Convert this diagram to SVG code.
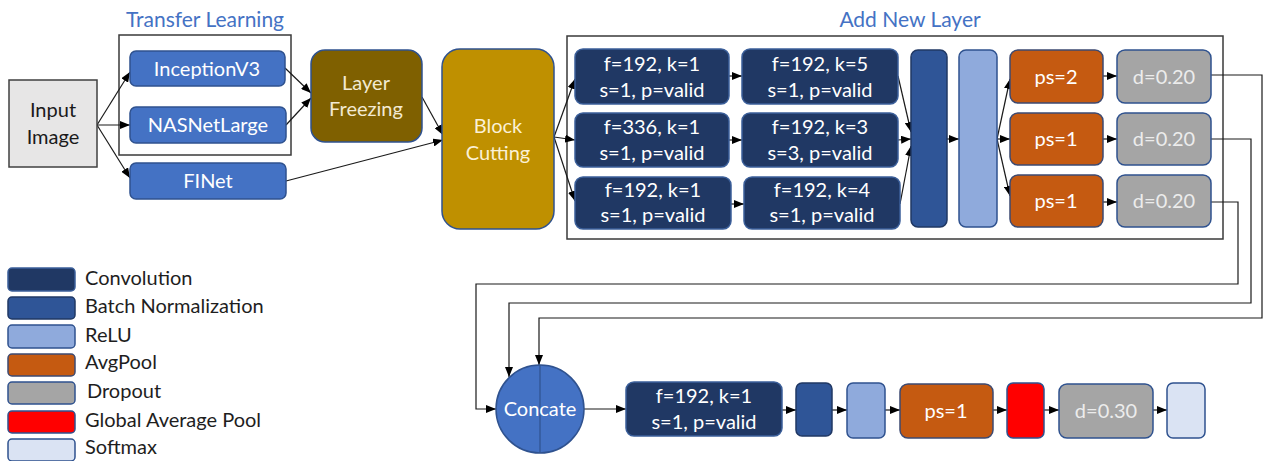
<svg xmlns="http://www.w3.org/2000/svg" width="1263" height="461" viewBox="0 0 1263 461">
<defs>
<style>
text{font-family:Lato,"Liberation Sans",sans-serif;font-size:20px;text-anchor:middle}
.w{fill:#ffffff}
.dg{fill:#ececec}
.lg{fill:#1e1e1e;text-anchor:start}
.tt{fill:#4472C4;font-size:21px}
.frame{fill:none;stroke:#3a3a3a;stroke-width:1.5}
.blue{fill:#4472C4;stroke:#2F528F;stroke-width:1.5}
.conv{fill:#203864;stroke:#3b5f9a;stroke-width:1.5}
.bn{fill:#2F5597;stroke:#203864;stroke-width:1.5}
.relu{fill:#8FAADC;stroke:#2F528F;stroke-width:1.5}
.pool{fill:#C55A11;stroke:#3d4a72;stroke-width:1.5}
.drop{fill:#A5A5A5;stroke:#2F528F;stroke-width:1.5}
.gap{fill:#FF0000;stroke:#2F528F;stroke-width:1.5}
.soft{fill:#DAE3F3;stroke:#2F528F;stroke-width:1.5}
.c{fill:none;stroke:#1a1a1a;stroke-width:1.2}
</style>
<marker id="ah" viewBox="0 0 10 8" refX="10" refY="4" markerWidth="10" markerHeight="8" markerUnits="userSpaceOnUse" orient="auto">
<path d="M0,0 L10,4 L0,8 z" fill="#000"/>
</marker>
</defs>
<rect width="1263" height="461" fill="#ffffff"/>

<text class="tt" x="205" y="27">Transfer Learning</text>
<text class="tt" x="910" y="27">Add New Layer</text>
<rect class="frame" x="119" y="35" width="172" height="120"/>
<rect class="frame" x="567" y="36" width="656" height="203"/>

<g id="connectors">
<path class="c" marker-end="url(#ah)" d="M97,125 L130,72"/>
<path class="c" marker-end="url(#ah)" d="M97,125 L130,125"/>
<path class="c" marker-end="url(#ah)" d="M97,125 L130,178"/>
<path class="c" marker-end="url(#ah)" d="M285,68 L311,93"/>
<path class="c" marker-end="url(#ah)" d="M286,125 L311,98"/>
<path class="c" marker-end="url(#ah)" d="M422,97 L443,135"/>
<path class="c" marker-end="url(#ah)" d="M286,181 L443,140"/>
<path class="c" marker-end="url(#ah)" d="M554,137 L575,79"/>
<path class="c" marker-end="url(#ah)" d="M554,137 L575,140"/>
<path class="c" marker-end="url(#ah)" d="M554,137 L575,201"/>
<path class="c" marker-end="url(#ah)" d="M729,76 L742,76"/>
<path class="c" marker-end="url(#ah)" d="M729,140 L742,140"/>
<path class="c" marker-end="url(#ah)" d="M731,204 L744,204"/>
<path class="c" marker-end="url(#ah)" d="M898,76 L911,132"/>
<path class="c" marker-end="url(#ah)" d="M898,140 L911,139"/>
<path class="c" marker-end="url(#ah)" d="M900,204 L911,146"/>
<path class="c" marker-end="url(#ah)" d="M947,139 L959,139"/>
<path class="c" marker-end="url(#ah)" d="M997,139 L1010,79"/>
<path class="c" marker-end="url(#ah)" d="M997,139 L1010,139"/>
<path class="c" marker-end="url(#ah)" d="M997,139 L1010,196"/>
<path class="c" marker-end="url(#ah)" d="M1103,76 L1117,76"/>
<path class="c" marker-end="url(#ah)" d="M1103,139 L1117,139"/>
<path class="c" marker-end="url(#ah)" d="M1103,202 L1117,202"/>
<path class="c" marker-end="url(#ah)" d="M1211,75 H1262 V318 H539 V365"/>
<path class="c" marker-end="url(#ah)" d="M1211,139 H1251 V303 H509 V377"/>
<path class="c" marker-end="url(#ah)" d="M1211,202 H1238 V284 H476 V409 H496"/>
<path class="c" marker-end="url(#ah)" d="M584,409 L626,409"/>
<path class="c" marker-end="url(#ah)" d="M782,410 L796,410"/>
<path class="c" marker-end="url(#ah)" d="M832,410 L847,410"/>
<path class="c" marker-end="url(#ah)" d="M885,410 L900,410"/>
<path class="c" marker-end="url(#ah)" d="M993,410 L1007,410"/>
<path class="c" marker-end="url(#ah)" d="M1044,410 L1059,410"/>
<path class="c" marker-end="url(#ah)" d="M1153,410 L1167,410"/>
</g>

<g id="input-image">
<rect x="9" y="80" width="88" height="87" fill="#E7E6E6" stroke="#404040" stroke-width="1.5"/>
<text x="53" y="117" fill="#1a1a1a">Input</text>
<text x="53" y="144" fill="#1a1a1a">Image</text>
</g>
<g id="inceptionv3"><rect class="blue" x="130" y="51" width="155" height="35" rx="6"/><text class="w" x="207" y="76">InceptionV3</text></g>
<g id="nasnetlarge"><rect class="blue" x="130" y="107" width="156" height="36" rx="6"/><text class="w" x="208" y="132">NASNetLarge</text></g>
<g id="finet"><rect class="blue" x="130" y="163" width="156" height="36" rx="6"/><text class="w" x="208" y="188">FINet</text></g>
<g id="layer-freezing"><rect x="311" y="50" width="111" height="92" rx="14" fill="#7F6000" stroke="#2F528F" stroke-width="1.5"/><text x="366" y="90" fill="#f3ead2">Layer</text><text x="366" y="116" fill="#f3ead2">Freezing</text></g>
<g id="block-cutting"><rect x="442" y="49" width="112" height="180" rx="18" fill="#BF9000" stroke="#2F528F" stroke-width="1.5"/><text x="498" y="133" fill="#fbf1d6">Block</text><text x="498" y="160" fill="#fbf1d6">Cutting</text></g>

<g id="conv-1a"><rect class="conv" x="575" y="49" width="154" height="55" rx="8"/><text class="w" x="652" y="71">f=192, k=1</text><text class="w" x="652" y="97">s=1, p=valid</text></g>
<g id="conv-1b"><rect class="conv" x="742" y="49" width="156" height="55" rx="8"/><text class="w" x="820" y="71">f=192, k=5</text><text class="w" x="820" y="97">s=1, p=valid</text></g>
<g id="conv-2a"><rect class="conv" x="575" y="113" width="154" height="54" rx="8"/><text class="w" x="652" y="134">f=336, k=1</text><text class="w" x="652" y="160">s=1, p=valid</text></g>
<g id="conv-2b"><rect class="conv" x="742" y="113" width="156" height="54" rx="8"/><text class="w" x="820" y="134">f=192, k=3</text><text class="w" x="820" y="160">s=3, p=valid</text></g>
<g id="conv-3a"><rect class="conv" x="575" y="177" width="156" height="52" rx="8"/><text class="w" x="653" y="197">f=192, k=1</text><text class="w" x="653" y="222">s=1, p=valid</text></g>
<g id="conv-3b"><rect class="conv" x="744" y="177" width="156" height="52" rx="8"/><text class="w" x="822" y="197">f=192, k=4</text><text class="w" x="822" y="222">s=1, p=valid</text></g>

<g id="bn-1"><rect class="bn" x="911" y="50" width="36" height="177" rx="7"/></g>
<g id="relu-1"><rect class="relu" x="959" y="50" width="38" height="177" rx="7"/></g>

<g id="pool-1"><rect class="pool" x="1010" y="50" width="93" height="53" rx="8"/><text class="w" x="1056" y="84">ps=2</text></g>
<g id="pool-2"><rect class="pool" x="1010" y="113" width="93" height="52" rx="8"/><text class="w" x="1056" y="146">ps=1</text></g>
<g id="pool-3"><rect class="pool" x="1010" y="175" width="93" height="52" rx="8"/><text class="w" x="1056" y="208">ps=1</text></g>
<g id="drop-1"><rect class="drop" x="1117" y="50" width="94" height="53" rx="8"/><text class="dg" x="1164" y="84">d=0.20</text></g>
<g id="drop-2"><rect class="drop" x="1117" y="113" width="94" height="52" rx="8"/><text class="dg" x="1164" y="146">d=0.20</text></g>
<g id="drop-3"><rect class="drop" x="1117" y="175" width="94" height="52" rx="8"/><text class="dg" x="1164" y="208">d=0.20</text></g>

<g id="concate"><circle cx="540" cy="409" r="44" fill="#4472C4" stroke="#2F528F" stroke-width="1.5"/><line x1="540" y1="365" x2="540" y2="453" stroke="#2F528F" stroke-width="1.2"/><text class="w" x="540" y="416">Concate</text></g>
<g id="conv-final"><rect class="conv" x="626" y="382" width="156" height="54" rx="8"/><text class="w" x="704" y="403">f=192, k=1</text><text class="w" x="704" y="429">s=1, p=valid</text></g>
<g id="bn-final"><rect class="bn" x="796" y="383" width="36" height="53" rx="6"/></g>
<g id="relu-final"><rect class="relu" x="847" y="383" width="38" height="55" rx="6"/></g>
<g id="pool-final"><rect class="pool" x="900" y="384" width="93" height="54" rx="8"/><text class="w" x="946" y="418">ps=1</text></g>
<g id="gap-final"><rect class="gap" x="1007" y="383" width="37" height="55" rx="6"/></g>
<g id="drop-final"><rect class="drop" x="1059" y="384" width="94" height="54" rx="8"/><text class="dg" x="1106" y="418">d=0.30</text></g>
<g id="softmax-final"><rect class="soft" x="1167" y="383" width="38" height="55" rx="6"/></g>

<g id="legend">
<rect class="conv" x="8" y="268" width="67" height="23" rx="4"/><text class="lg" x="85" y="285">Convolution</text>
<rect class="bn" x="8" y="297" width="67" height="22" rx="4"/><text class="lg" x="85" y="313">Batch Normalization</text>
<rect class="relu" x="8" y="325" width="67" height="23" rx="4"/><text class="lg" x="85" y="342">ReLU</text>
<rect class="pool" x="8" y="354" width="67" height="22" rx="4"/><text class="lg" x="85" y="369">AvgPool</text>
<rect class="drop" x="8" y="382" width="67" height="22" rx="4"/><text class="lg" x="87" y="398">Dropout</text>
<rect class="gap" x="8" y="411" width="67" height="22" rx="4"/><text class="lg" x="85" y="427">Global Average Pool</text>
<rect class="soft" x="8" y="439" width="67" height="22" rx="4"/><text class="lg" x="85" y="454">Softmax</text>
</g>
</svg>
